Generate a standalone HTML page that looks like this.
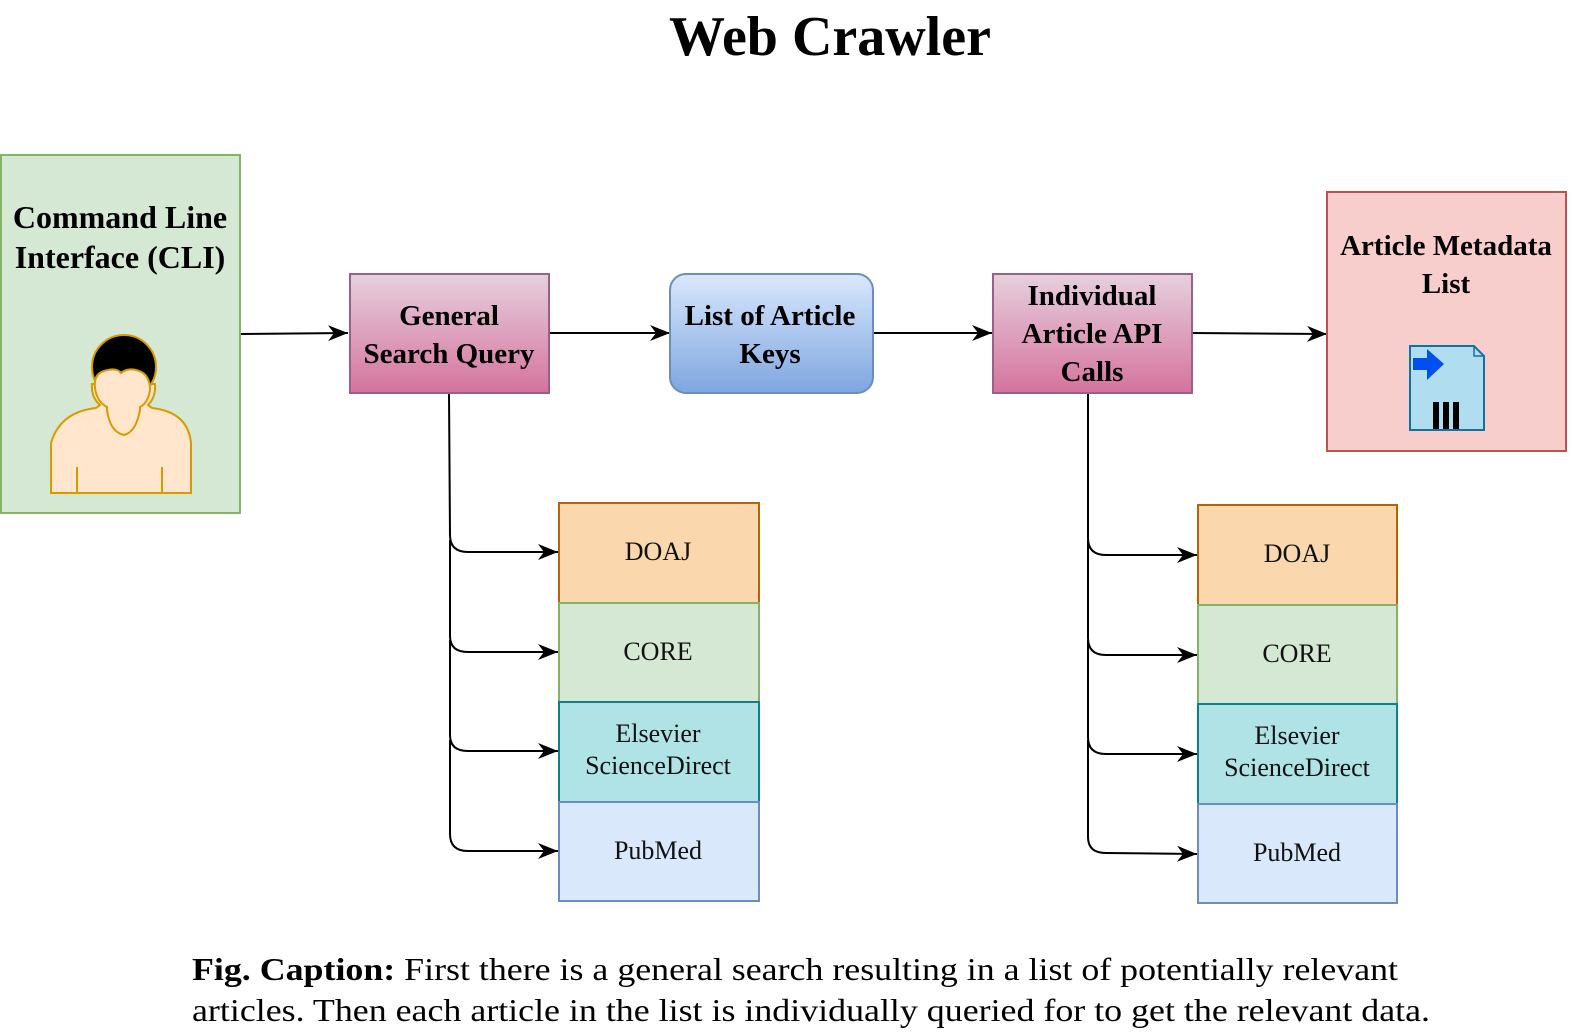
<!DOCTYPE html>
<html><head><meta charset="utf-8"><style>html,body{margin:0;padding:0;background:#fff}svg{display:block}</style></head>
<body>
<svg width="1572" height="1034" viewBox="0 0 1572 1034" xmlns="http://www.w3.org/2000/svg" font-family="'Liberation Serif', serif">
<defs>
<linearGradient id="pk" x1="0" y1="0" x2="0" y2="1"><stop offset="0" stop-color="#e6d0de"/><stop offset="1" stop-color="#d5739d"/></linearGradient>
<linearGradient id="bl" x1="0" y1="0" x2="0" y2="1"><stop offset="0" stop-color="#dae8fc"/><stop offset="1" stop-color="#7ea6e0"/></linearGradient>
<marker id="ar" markerWidth="24" markerHeight="20" refX="20" refY="10" orient="auto" markerUnits="userSpaceOnUse">
<path d="M0,2 L20,10 L0,18 L6,10 Z" fill="#000"/></marker>
</defs>
<text x="830" y="55" text-anchor="middle" font-size="56" font-weight="bold">Web Crawler</text>

<rect x="1" y="155" width="239" height="358" fill="#d5e8d4" stroke="#82b366" stroke-width="2"/>
<g font-size="32" font-weight="bold" text-anchor="middle">
<text x="120" y="228">Command Line</text>
<text x="120" y="268">Interface (CLI)</text>
</g>
<path d="M51,493 L51,443 Q60,412 96,408 L100,405 Q91,397 92,384 L155,384 Q156,397 148,405 L152,408 Q188,412 191,443 L191,493 Z" fill="#ffe6cc" stroke="#d79b00" stroke-width="2"/>
<circle cx="124" cy="367" r="32" fill="#000" stroke="#d79b00" stroke-width="2"/>
<path d="M95,388 Q93,372 108,370 Q117,368 121,373 Q127,368 136,370 Q150,373 150,390 Q148,403 140,407 L140,410 Q136,432 124,435 Q110,432 107,410 L107,407 Q97,402 95,388 Z" fill="#ffe6cc" stroke="#d79b00" stroke-width="2"/>
<line x1="77" y1="467" x2="77" y2="493" stroke="#d79b00" stroke-width="2"/>
<line x1="162" y1="467" x2="162" y2="493" stroke="#d79b00" stroke-width="2"/>

<g stroke="#000" stroke-width="2" fill="none" marker-end="url(#ar)">
<line x1="241" y1="334" x2="348" y2="333"/>
<line x1="549" y1="333" x2="670" y2="333"/>
<line x1="873" y1="333" x2="992" y2="333"/>
<line x1="1193" y1="333" x2="1327" y2="334"/>
<path d="M449,393 L450,535 Q450,552 468,552 L558,552"/>
<path d="M450,540 L450,636 Q450,652 468,652 L558,652"/>
<path d="M450,640 L450,735 Q450,751 468,751 L558,751"/>
<path d="M450,740 L450,834 Q450,851 468,851 L558,851"/>
<path d="M1088,393 L1088,538 Q1088,555 1106,555 L1197,555"/>
<path d="M1088,540 L1088,638 Q1088,655 1106,655 L1197,655"/>
<path d="M1088,640 L1088,737 Q1088,754 1106,754 L1197,754"/>
<path d="M1088,740 L1088,837 Q1088,853 1106,853 L1197,854"/>
</g>

<rect x="350" y="274" width="199" height="119" fill="url(#pk)" stroke="#996185" stroke-width="2"/>
<rect x="670" y="274" width="203" height="119" rx="16" fill="url(#bl)" stroke="#6c8ebf" stroke-width="2"/>
<rect x="993" y="274" width="199" height="119" fill="url(#pk)" stroke="#996185" stroke-width="2"/>
<g font-size="29" font-weight="bold" text-anchor="middle">
<text x="449" y="325">General</text>
<text x="449" y="363">Search Query</text>
<text x="770" y="325">List of Article</text>
<text x="770" y="363">Keys</text>
<text x="1092" y="305">Individual</text>
<text x="1092" y="343">Article API</text>
<text x="1092" y="381">Calls</text>
</g>

<rect x="1327" y="192" width="239" height="259" fill="#f8cecc" stroke="#b85450" stroke-width="2"/>
<g font-size="29" font-weight="bold" text-anchor="middle">
<text x="1446" y="255">Article Metadata</text>
<text x="1446" y="293">List</text>
</g>
<path d="M1410,346 L1474,346 L1484,356 L1484,430 L1410,430 Z" fill="#b1ddf0" stroke="#10739e" stroke-width="2"/>
<path d="M1474,346 L1474,356 L1484,356" fill="none" stroke="#10739e" stroke-width="1.5"/>
<path d="M1413,358 L1427,358 L1427,349 L1444,364 L1427,380 L1427,370 L1413,370 Z" fill="#0050ef"/>
<rect x="1433" y="402" width="6" height="27" fill="#000"/>
<rect x="1443" y="402" width="6" height="27" fill="#000"/>
<rect x="1453" y="402" width="6" height="27" fill="#000"/>

<g stroke-width="2">
<rect x="559" y="503" width="200" height="100" fill="#fad7ac" stroke="#b46504"/>
<rect x="559" y="603" width="200" height="99" fill="#d5e8d4" stroke="#82b366"/>
<rect x="559" y="702" width="200" height="100" fill="#b0e3e6" stroke="#0e8088"/>
<rect x="559" y="802" width="200" height="99" fill="#dae8fc" stroke="#6c8ebf"/>
<rect x="1198" y="505" width="199" height="100" fill="#fad7ac" stroke="#b46504"/>
<rect x="1198" y="605" width="199" height="99" fill="#d5e8d4" stroke="#82b366"/>
<rect x="1198" y="704" width="199" height="100" fill="#b0e3e6" stroke="#0e8088"/>
<rect x="1198" y="804" width="199" height="99" fill="#dae8fc" stroke="#6c8ebf"/>
</g>
<g font-size="26" text-anchor="middle" fill="#111">
<text x="658" y="560">DOAJ</text>
<text x="658" y="660">CORE</text>
<text x="658" y="742">Elsevier</text>
<text x="658" y="774">ScienceDirect</text>
<text x="658" y="859">PubMed</text>
<text x="1297" y="562">DOAJ</text>
<text x="1297" y="662">CORE</text>
<text x="1297" y="744">Elsevier</text>
<text x="1297" y="776">ScienceDirect</text>
<text x="1297" y="861">PubMed</text>
</g>

<g font-size="32">
<text x="192" y="980" textLength="1206" lengthAdjust="spacingAndGlyphs"><tspan font-weight="bold">Fig. Caption:</tspan> First there is a general search resulting in a list of potentially relevant</text>
<text x="192" y="1021" textLength="1238" lengthAdjust="spacingAndGlyphs">articles. Then each article in the list is individually queried for to get the relevant data.</text>
</g>
</svg>
</body></html>
